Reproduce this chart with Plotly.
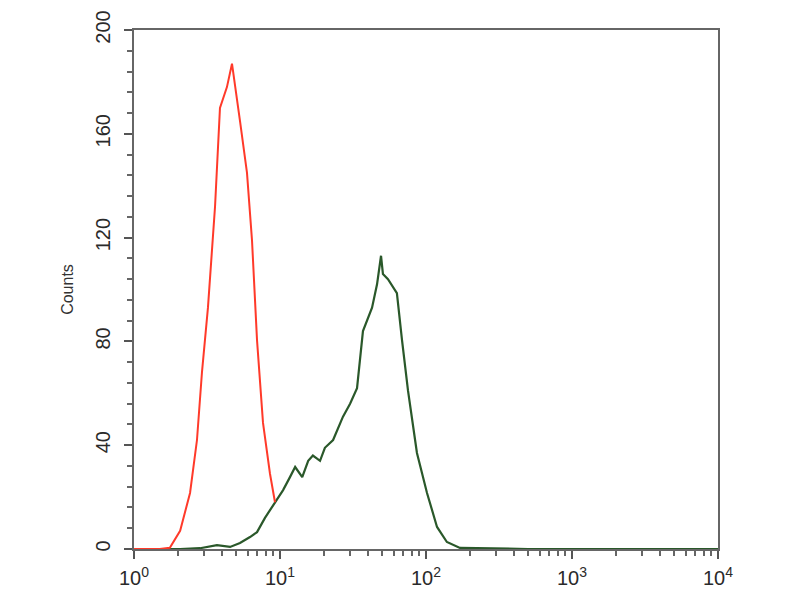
import plotly.graph_objects as go

# Red (control) histogram: fluorescence intensity vs counts
red_x = [1.0, 1.5, 1.76, 2.07, 2.42, 2.70, 2.92, 3.21, 3.59, 3.88, 4.33, 4.69,
         5.32, 5.94, 6.43, 6.96, 7.65, 8.54, 9.24]
red_y = [0, 0, 0.5, 7, 21.6, 42, 68, 93, 132, 170, 178, 187,
         165, 145, 119, 80.5, 48.6, 29, 18]

# Green (sample) histogram
green_x = [1.44, 2.07, 2.83, 3.70, 4.55, 5.32, 6.23, 6.96, 7.89, 9.24, 10.5,
           11.7, 12.7, 14.2, 15.6, 16.8, 18.8, 20.3, 23.1, 27.0, 30.2, 33.7,
           37.0, 42.7, 46.2, 49.2, 50.7, 54.9, 63.2, 68.5, 75.3, 86.7, 101.6,
           119, 139, 171, 500, 2000, 10000]
green_y = [0, 0, 0.3, 1.5, 0.8, 2.3, 4.6, 6.5, 12, 17.7, 22.7,
           27.7, 31.6, 27.7, 34, 36, 34, 39, 42, 51, 56, 62,
           84, 93, 102, 113, 106, 104, 98.6, 80.5, 61, 37, 21.6,
           8.5, 2.7, 0.4, 0, 0, 0]

y_ticks = [0, 40, 80, 120, 160, 200]
x_tickvals = [1, 10, 100, 1000, 10000]
x_ticktext = ["10<sup>0</sup>", "10<sup>1</sup>", "10<sup>2</sup>", "10<sup>3</sup>", "10<sup>4</sup>"]

fig = go.Figure()
fig.add_trace(go.Scatter(x=green_x, y=green_y, mode="lines",
                         line=dict(color="#2a582a", width=2.2), showlegend=False))
fig.add_trace(go.Scatter(x=red_x, y=red_y, mode="lines",
                         line=dict(color="#ff3a2a", width=2), showlegend=False))

font_family = "Liberation Sans, Arial, sans-serif"

fig.update_layout(
    width=800, height=600,
    margin=dict(l=126, r=90, t=22, b=59, autoexpand=False),
    paper_bgcolor="white", plot_bgcolor="white",
    font=dict(family=font_family, color="#2a2a2a"),
    xaxis=dict(
        type="log", range=[0, 4],
        tickvals=x_tickvals, ticktext=x_ticktext,
        tickfont=dict(size=20, color="#2a2a2a"),
        ticks="outside", ticklen=8, tickwidth=2, tickcolor="#555",
        ticklabelstandoff=2,
        minor=dict(ticks="outside", ticklen=5, tickwidth=2, tickcolor="#666",
                   dtick="D1", showgrid=False),
        showline=True, linecolor="#666", linewidth=2, mirror=True,
        showgrid=False, zeroline=False,
    ),
    yaxis=dict(
        range=[0, 200],
        tickvals=y_ticks,
        tickangle=-90,
        tickfont=dict(size=20, color="#2a2a2a"),
        ticks="outside", ticklen=8, tickwidth=2, tickcolor="#555",
        ticklabelstandoff=6,
        minor=dict(ticks="outside", ticklen=5, tickwidth=2, tickcolor="#666",
                   dtick=8, showgrid=False),
        showline=True, linecolor="#666", linewidth=2, mirror=True,
        showgrid=False, zeroline=False,
        title=dict(text="Counts", font=dict(size=16, color="#333"), standoff=14),
    ),
)

fig.write_html("out.html")
